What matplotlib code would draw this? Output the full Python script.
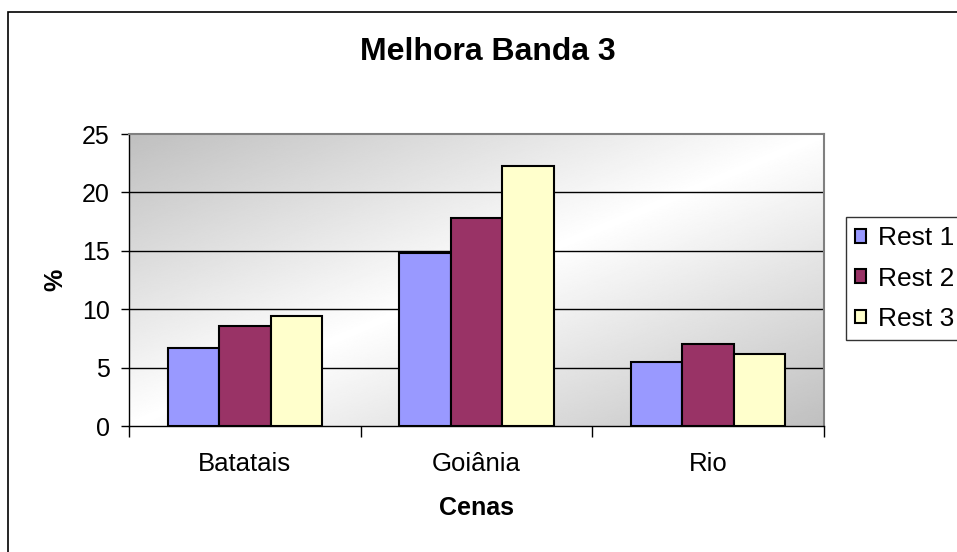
import numpy as np
import matplotlib.pyplot as plt
from matplotlib.patches import Rectangle

plt.rcParams['font.family'] = ['Liberation Sans', 'DejaVu Sans']

cenas = ['Batatais', 'Goiânia', 'Rio']
rest1 = [6.7, 14.85, 5.45]
rest2 = [8.55, 17.8, 7.0]
rest3 = [9.45, 22.25, 6.15]
series = ['Rest 1', 'Rest 2', 'Rest 3']
colors = ['#9999FF', '#993366', '#FFFFCC']

fig = plt.figure(figsize=(9.57, 5.52), dpi=100)
ax = fig.add_axes([129 / 957, 1 - 426 / 552, (824 - 129) / 957, (426 - 134) / 552])

# diagonal grey-white-grey fill behind the plot area
n = 400
u, v = np.meshgrid(np.linspace(0, 1, n), np.linspace(0, 1, n))
t = (u + v) / 2
shade = 0.75 + 0.25 * (1 - np.abs(2 * t - 1))
ax.imshow(shade, cmap='gray', vmin=0, vmax=1, extent=[0, 1, 0, 1],
          transform=ax.transAxes, aspect='auto', zorder=0, origin='upper')

x = np.arange(len(cenas))
width = 0.667 / 3
for i, (vals, name, c) in enumerate(zip([rest1, rest2, rest3], series, colors)):
    ax.bar(x + (i - 1) * width, vals, width, color=c, edgecolor='black',
           linewidth=1.5, label=name, zorder=3)

ax.set_xlim(-0.5, 2.5)
ax.set_ylim(0, 25)
ax.set_yticks(range(0, 26, 5))
for y in range(5, 25, 5):
    ax.axhline(y, color='black', linewidth=1, zorder=1)

ax.set_xticks([-0.5, 0.5, 1.5, 2.5])
ax.set_xticklabels([])
ax.set_xticks(x, minor=True)
ax.set_xticklabels(cenas, minor=True, fontsize=18.5)
ax.tick_params(axis='x', which='major', direction='out', length=8, width=1)
ax.tick_params(axis='x', which='minor', length=0, pad=19)
ax.tick_params(axis='y', direction='out', length=6, width=1, labelsize=18, pad=8)

for side in ['top', 'right']:
    ax.spines[side].set_color('#808080')
    ax.spines[side].set_linewidth(1.5)
for side in ['left', 'bottom']:
    ax.spines[side].set_color('black')
    ax.spines[side].set_linewidth(1)

ax.set_xlabel('Cenas', fontsize=18, fontweight='bold', labelpad=14)
ax.set_ylabel('%', fontsize=18, fontweight='bold', labelpad=10)

fig.text(488 / 957, 1 - 52 / 552, 'Melhora Banda 3', fontsize=23,
         fontweight='bold', ha='center', va='center')

leg = fig.legend(loc='upper left', bbox_to_anchor=(846 / 957, 1 - 217 / 552),
                 fontsize=19, frameon=True, fancybox=False, edgecolor='black',
                 handlelength=0.42, handleheight=0.42, handletextpad=0.45,
                 labelspacing=0.62, borderpad=0.35, borderaxespad=0)
leg.get_frame().set_linewidth(1)

# chart border
fig.patches.append(Rectangle((8 / 957, -0.1), 2, 1 - 12 / 552 + 0.1,
                             transform=fig.transFigure, fill=False,
                             edgecolor='black', linewidth=1.2))

fig.savefig('out.png', dpi=100)
